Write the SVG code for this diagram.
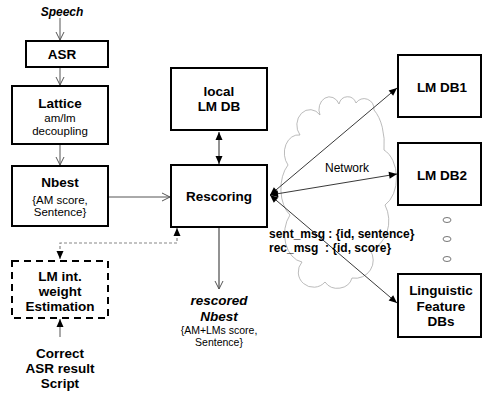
<svg xmlns="http://www.w3.org/2000/svg" width="483" height="394" viewBox="0 0 483 394">
<style>
.box{fill:#fff;stroke:#000;stroke-width:2}
.dbox{fill:#fff;stroke:#000;stroke-width:2;stroke-dasharray:7,5}
.t{font-family:"Liberation Sans",Arial,sans-serif;fill:#000;text-anchor:middle}
.b{font-weight:bold;font-size:13.5px}
.r{font-size:11.5px}
.s{font-size:10.5px}
.ln{stroke:#555;stroke-width:1;fill:none}
.gl{stroke:#777;stroke-width:1.6;fill:none}
.dl{stroke:#888;stroke-width:1.2;fill:none;stroke-dasharray:3,2}
.nl{stroke:#222;stroke-width:0.9;fill:none}
</style>
<defs>
<marker id="open" markerWidth="10" markerHeight="10" refX="9" refY="5" orient="auto" markerUnits="userSpaceOnUse">
<path d="M1,1 L9,5 L1,9" fill="none" stroke="#555" stroke-width="1"/>
</marker>
<marker id="fill" markerWidth="10" markerHeight="10" refX="9" refY="5" orient="auto-start-reverse" markerUnits="userSpaceOnUse">
<path d="M1,1.5 L9,5 L1,8.5 Z" fill="#000"/>
</marker>
</defs>

<g id="cloud">
<path d="M320,115 A10,12 0 0 1 339,104 A9,10 0 0 1 356,103 A10,11 0 0 1 374,110 A22,40 0 0 1 384,150 A20,30 0 0 1 385,205 A25,30 0 0 1 370,250 A18,18 0 0 1 352,278 A15,14 0 0 1 325,282 A14,14 0 0 1 302,262 A20,28 0 0 1 290,215 A18,30 0 0 1 288,165 A14,18 0 0 1 300,135 A12,14 0 0 1 320,115 Z" fill="none" stroke="#aaa" stroke-width="0.8"/>
</g>

<g id="connectors">
<line class="ln" x1="60" y1="18" x2="60" y2="40" marker-end="url(#open)"/>
<line class="ln" x1="60" y1="67" x2="60" y2="85" marker-end="url(#open)"/>
<line class="ln" x1="60" y1="144" x2="60" y2="165" marker-end="url(#open)"/>
<line class="ln" x1="108" y1="197" x2="170" y2="197" marker-end="url(#open)"/>
<line class="gl" x1="219" y1="132" x2="219" y2="164" marker-start="url(#fill)" marker-end="url(#fill)"/>
<line class="gl" x1="219" y1="227" x2="219" y2="289" marker-end="url(#open)"/>
<path class="dl" d="M177,228 L177,243 L60,243 L60,259" marker-start="url(#fill)" marker-end="url(#fill)"/>
<line class="ln" x1="60" y1="337" x2="60" y2="319" marker-end="url(#fill)"/>
<line class="nl" x1="270" y1="195" x2="397" y2="88" marker-start="url(#fill)" marker-end="url(#fill)"/>
<line class="nl" x1="270" y1="195" x2="397" y2="174" marker-start="url(#fill)" marker-end="url(#fill)"/>
<line class="nl" x1="270" y1="195" x2="397" y2="303" marker-start="url(#fill)" marker-end="url(#fill)"/>
</g>

<g id="speech"><text class="t" x="62" y="16" font-weight="bold" font-style="italic" font-size="12px">Speech</text></g>

<g id="asr"><rect class="box" x="26" y="41" width="82" height="26"/><text class="t b" x="62" y="59">ASR</text></g>

<g id="lattice"><rect class="box" x="12" y="86" width="96" height="58"/>
<text class="t b" x="60" y="108">Lattice</text>
<text class="t r" x="60" y="122">am/lm</text>
<text class="t r" x="60" y="135">decoupling</text></g>

<g id="nbest"><rect class="box" x="12" y="166" width="96" height="60"/>
<text class="t b" x="60" y="187">Nbest</text>
<text class="t r" x="60" y="204">{AM score,</text>
<text class="t r" x="60" y="216">Sentence}</text></g>

<g id="lmint"><rect class="dbox" x="12" y="261" width="96" height="57"/>
<text class="t b" x="60" y="281">LM int.</text>
<text class="t b" x="60" y="296">weight</text>
<text class="t b" x="60" y="311">Estimation</text></g>

<g id="correct">
<text class="t b" x="60" y="358">Correct</text>
<text class="t b" x="60" y="373">ASR result</text>
<text class="t b" x="60" y="388">Script</text></g>

<g id="locallm"><rect class="box" x="171" y="68" width="96" height="62"/>
<text class="t b" x="219" y="96">local</text>
<text class="t b" x="219" y="111">LM DB</text></g>

<g id="rescoring"><rect class="box" x="171" y="165" width="96" height="62"/>
<text class="t b" x="219" y="201" font-size="14px">Rescoring</text></g>

<g id="rescored">
<text class="t" x="219" y="305" font-weight="bold" font-style="italic" font-size="13.5px">rescored</text>
<text class="t" x="219" y="321" font-weight="bold" font-style="italic" font-size="13.5px">Nbest</text>
<text class="t s" x="219" y="334">{AM+LMs score,</text>
<text class="t s" x="219" y="346">Sentence}</text></g>

<g id="network"><text class="t" x="347" y="172" font-size="12px">Network</text></g>

<g id="msgs">
<text x="269" y="238" font-family="'Liberation Sans',Arial,sans-serif" font-weight="bold" font-size="12px">sent_msg : {id, sentence}</text>
<text x="269" y="252" font-family="'Liberation Sans',Arial,sans-serif" font-weight="bold" font-size="12px" xml:space="preserve">rec_msg  : {id, score}</text></g>

<g id="lmdb1"><rect class="box" x="398" y="55" width="83" height="62"/>
<text class="t b" x="442" y="92">LM DB1</text></g>

<g id="lmdb2"><rect class="box" x="398" y="143" width="83" height="62"/>
<text class="t b" x="442" y="180">LM DB2</text></g>

<g id="dots">
<ellipse cx="447" cy="220" rx="4" ry="2.5" fill="none" stroke="#555" stroke-width="0.8"/>
<ellipse cx="447" cy="239" rx="4" ry="2.5" fill="none" stroke="#555" stroke-width="0.8"/>
<ellipse cx="447" cy="259" rx="4" ry="2.5" fill="none" stroke="#555" stroke-width="0.8"/></g>

<g id="ling"><rect class="box" x="398" y="274" width="83" height="63"/>
<text class="t b" x="441" y="295">Linguistic</text>
<text class="t b" x="441" y="311">Feature</text>
<text class="t b" x="441" y="326">DBs</text></g>
</svg>
